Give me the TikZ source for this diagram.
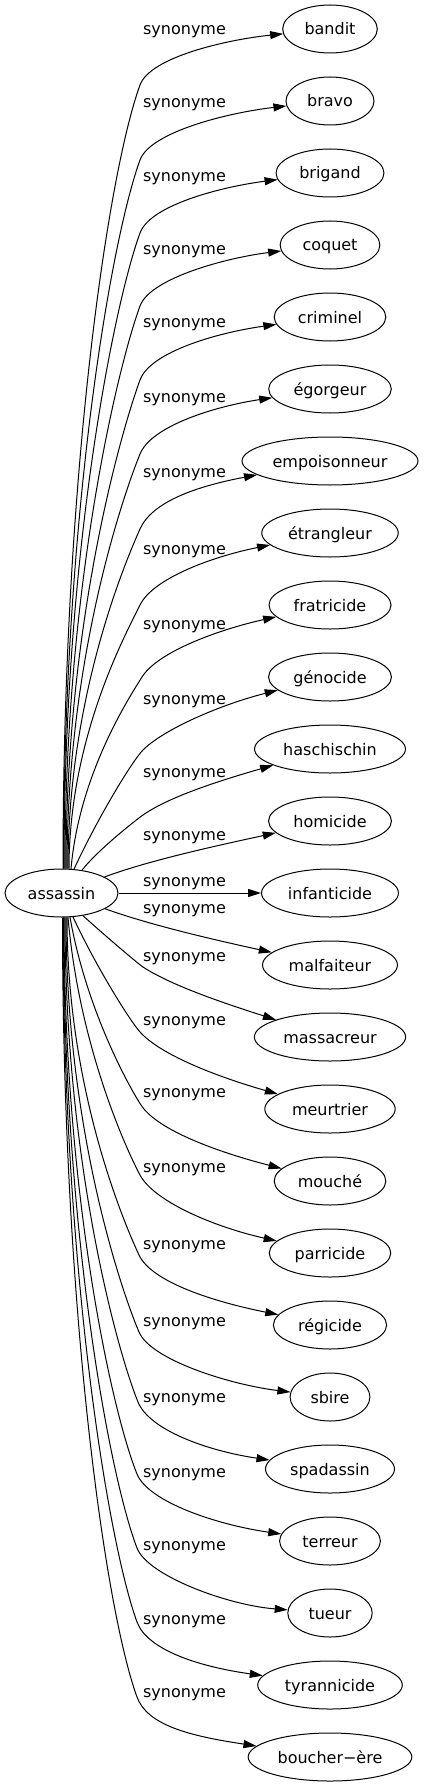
\documentclass[tikz,border=0pt]{standalone}
\usepackage{fontspec}
\setmainfont{DejaVu Sans}
\usetikzlibrary{arrows.meta,shapes.geometric}
\tikzset{
  tnode/.style={draw, ellipse, line width=1pt, minimum height=48pt, inner xsep=0pt, inner ysep=0pt,
    text height=12pt, text depth=0pt, font=\fontsize{16pt}{19pt}\selectfont},
  lab/.style={anchor=base, inner sep=0pt, font=\fontsize{16pt}{19pt}\selectfont},
  edge/.style={draw, line width=1pt, -{Triangle[length=13pt,width=8pt]}},
}
% top edge: #1 target, #2 start x, #3 bend x, #4 bend y, #5 angle at bend, #6 tip x, #7 tip y, #8 arrival angle, #9 start angle
\newcommand\mytedge[9]{%
  \draw[edge] ([xshift={(#2-61.5)*1pt}, yshift={-(24-24*sqrt(1-((#2-61.5)/56.5)^2))*1pt}]assassin.north)
   .. controls ({#2+0.5*(869-#4)*sin(#9)},{869-0.5*(869-#4)*cos(#9)})
   and ({#3-max(0.12*(869-#4),6)*cos(#5)},{#4+max(0.12*(869-#4),6)*sin(#5)})
   .. (#3,#4)
   .. controls ({#3+30*cos(#5)},{#4-30*sin(#5)}) and ({#6-55*cos(#8)},{#7+55*sin(#8)})
   .. (#1);}
\newcommand\mybedge[9]{%
  \draw[edge] ([xshift={(#2-61.5)*1pt}, yshift={(24-24*sqrt(1-((#2-61.5)/56.5)^2))*1pt}]assassin.south)
   .. controls ({#2+0.5*(#4-917)*sin(#9)},{917+0.5*(#4-917)*cos(#9)})
   and ({#3-max(0.12*(#4-917),6)*cos(#5)},{#4-max(0.12*(#4-917),6)*sin(#5)})
   .. (#3,#4)
   .. controls ({#3+30*cos(#5)},{#4+30*sin(#5)}) and ({#6-55*cos(#8)},{#7-55*sin(#8)})
   .. (#1);}
\begin{document}
\begin{tikzpicture}[x=1pt,y=-1pt]
\useasboundingbox[fill=white] (0,0) rectangle (423,1787);
\node[tnode, minimum width=113pt] (assassin) at (61.5,893) {assassin};
\node[tnode, minimum width=94.6pt] (bandit) at (330,29) {bandit};
\node[tnode, minimum width=88pt] (bravo) at (330,101) {bravo};
\node[tnode, minimum width=107.9pt] (brigand) at (330,173) {brigand};
\node[tnode, minimum width=99.7pt] (coquet) at (330,245) {coquet};
\node[tnode, minimum width=111.6pt] (criminel) at (330,317) {criminel};
\node[tnode, minimum width=122.6pt] (egorgeur) at (330,389) {égorgeur};
\node[tnode, minimum width=176pt] (empoisonneur) at (330,461) {empoisonneur};
\node[tnode, minimum width=136.5pt] (etrangleur) at (330,533) {étrangleur};
\node[tnode, minimum width=122.1pt] (fratricide) at (330,605) {fratricide};
\node[tnode, minimum width=122.9pt] (genocide) at (330,677) {génocide};
\node[tnode, minimum width=150.9pt] (haschischin) at (330,749) {haschischin};
\node[tnode, minimum width=122.9pt] (homicide) at (330,821) {homicide};
\node[tnode, minimum width=136.9pt] (infanticide) at (330,893) {infanticide};
\node[tnode, minimum width=134.9pt] (malfaiteur) at (330,965) {malfaiteur};
\node[tnode, minimum width=151.2pt] (massacreur) at (330,1037) {massacreur};
\node[tnode, minimum width=130.4pt] (meurtrier) at (330,1109) {meurtrier};
\node[tnode, minimum width=111.6pt] (mouche) at (330,1181) {mouché};
\node[tnode, minimum width=121.5pt] (parricide) at (330,1253) {parricide};
\node[tnode, minimum width=113.2pt] (regicide) at (330,1325) {régicide};
\node[tnode, minimum width=79.8pt] (sbire) at (330,1397) {sbire};
\node[tnode, minimum width=129pt] (spadassin) at (330,1469) {spadassin};
\node[tnode, minimum width=100.8pt] (terreur) at (330,1541) {terreur};
\node[tnode, minimum width=84.4pt] (tueur) at (330,1613) {tueur};
\node[tnode, minimum width=144.6pt] (tyrannicide) at (330,1685) {tyrannicide};
\node[tnode, minimum width=163.7pt] (boucher) at (330,1757) {boucher−ère};
\foreach \n/\y in {0/30,1/103,2/177,3/250,4/323,5/398,6/473,7/550,8/625,9/700,10/773,11/836,12/882,
  13/909,14/957,15/1021,16/1093,17/1168,18/1245,19/1322,20/1398,21/1473,22/1546,23/1620,24/1693}
  \node[lab] (l\n) at (184.5,{\y+4.4}) {synonyme};
\mytedge{bandit}{63}{140}{85}{70}{282}{30}{10}{0}
\mytedge{bravo}{63.5}{140}{160}{70}{283}{103}{10}{0}
\mytedge{brigand}{64}{140}{233}{70}{277}{177}{10}{0}
\mytedge{coquet}{65}{140}{306}{70}{282}{248}{10}{0}
\mytedge{criminel}{66}{140}{380}{70}{272}{322}{11}{0}
\mytedge{egorgeur}{67}{140}{454}{68}{268}{395}{12}{0}
\mytedge{empoisonneur}{68}{140}{529}{66}{250}{473}{14}{0}
\mytedge{etrangleur}{69}{140}{605}{64}{267}{543}{14}{0}
\mytedge{fratricide}{71}{142}{677}{58}{273}{615}{15}{5}
\mytedge{genocide}{74}{143}{750}{45}{275}{690}{15}{25}
\mytedge{haschischin}{82}{143}{815}{35}{267}{765}{18}{40}
\draw[edge] (assassin) .. controls (150,860) and (220,845) .. (homicide);
\draw[edge] (assassin) -- (infanticide);
\draw[edge] (assassin) .. controls (150,925) and (215,940) .. (malfaiteur);
\mybedge{massacreur}{83}{143}{967}{33}{263}{1018}{20}{50}
\mybedge{meurtrier}{73}{140}{1032}{48}{267}{1093}{18}{25}
\mybedge{mouche}{70}{141}{1105}{57}{270}{1168}{17}{10}
\mybedge{parricide}{68}{140}{1175}{62}{267}{1242}{16}{5}
\mybedge{regicide}{67}{139}{1255}{65}{267}{1317}{16}{0}
\mybedge{sbire}{66}{139}{1332}{67}{283}{1394}{10}{0}
\mybedge{spadassin}{65}{138}{1402}{68}{260}{1465}{15}{0}
\mybedge{terreur}{64}{137}{1474}{68}{270}{1539}{15}{0}
\mybedge{tueur}{63.5}{137}{1548}{69}{283}{1613}{8}{0}
\mybedge{tyrannicide}{63}{137}{1622}{70}{253}{1682}{16}{0}
\mybedge{boucher}{62.5}{137}{1697}{70}{242}{1752}{17}{0}
\end{tikzpicture}
\end{document}
